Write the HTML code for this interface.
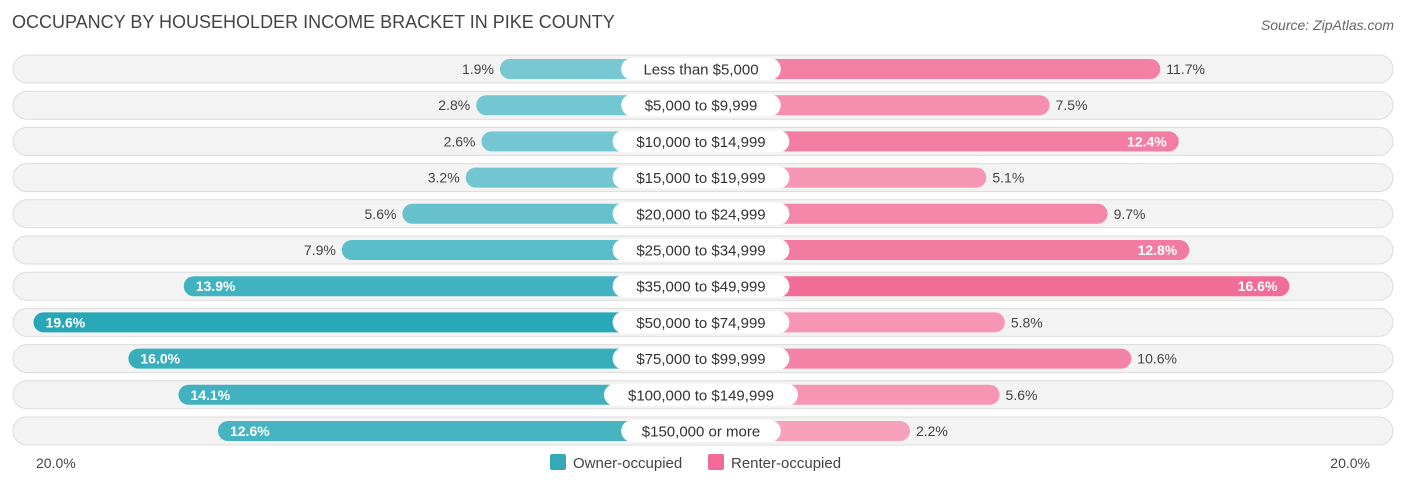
<!DOCTYPE html>
<html><head><meta charset="utf-8"><style>
body{margin:0;background:#fff;font-family:"Liberation Sans",sans-serif;}
svg text{font-family:"Liberation Sans",sans-serif;}
</style></head><body>
<svg id="chart" width="1406" height="487">
<text x="12" y="28" font-size="18" fill="#444">OCCUPANCY BY HOUSEHOLDER INCOME BRACKET IN PIKE COUNTY</text>
<text x="1394" y="30" font-size="14" fill="#666" text-anchor="end" font-style="italic">Source: ZipAtlas.com</text>
<g id="rows"></g>
<text x="36" y="468" font-size="14" fill="#444">20.0%</text>
<text x="1370" y="468" font-size="14" fill="#444" text-anchor="end">20.0%</text>
<rect x="550" y="454" width="16" height="16" rx="2" fill="#35a9b8"/>
<text x="573" y="468" font-size="15" fill="#444">Owner-occupied</text>
<rect x="708" y="454" width="16" height="16" rx="2" fill="#f06c97"/>
<text x="731" y="468" font-size="15" fill="#444">Renter-occupied</text>
</svg>
<script>
const categories=["Less than $5,000","$5,000 to $9,999","$10,000 to $14,999","$15,000 to $19,999","$20,000 to $24,999","$25,000 to $34,999","$35,000 to $49,999","$50,000 to $74,999","$75,000 to $99,999","$100,000 to $149,999","$150,000 or more"];
const owner=[1.9,2.8,2.6,3.2,5.6,7.9,13.9,19.6,16.0,14.1,12.6];
const renter=[11.7,7.5,12.4,5.1,9.7,12.8,16.6,5.8,10.6,5.6,2.2];
const maxV=20;
const NS="http://www.w3.org/2000/svg";
const g=document.getElementById('rows');
const center=701,leftZero=550,rightZero=852,pxPer=26.35;
const xl=v=>leftZero-v*pxPer, xr=v=>rightZero+v*pxPer;
const yc=i=>69+i*36.2;
function mix(a,b,t){return 'rgb('+a.map((c,k)=>Math.round(c+(b[k]-c)*t)).join(',')+')';}
function mk(tag,attrs){const e=document.createElementNS(NS,tag);for(const k in attrs)e.setAttribute(k,attrs[k]);g.appendChild(e);return e;}
categories.forEach((c,i)=>{
  const y=yc(i);
  const tr=mk('rect',{x:13,y:y-14,width:1380,height:28,rx:14,fill:'#f3f3f3',stroke:'#dcdcdc'});
  
  
  const o=owner[i],r=renter[i];
  const ob=mk('rect',{x:xl(o),y:y-10,width:center-xl(o),height:20,rx:10,fill:mix([128,204,214],[38,166,183],Math.min(1,o/maxV))});
  
  
  const rb=mk('rect',{x:center,y:y-10,width:xr(r)-center,height:20,rx:10,fill:mix([248,170,195],[240,96,142],Math.min(1,r/maxV))});
  
  
  const w=c.length*8.6+22;
  const lp=mk('rect',{x:center-w/2,y:y-11,width:w,height:22,rx:11,fill:'#fff'});
  
  
  const lt=mk('text',{x:center,y:y+5.5,'font-size':15,fill:'#333','text-anchor':'middle'});lt.textContent=c;
  
  
  const oin=o>=10;
  const ot=mk('text',{x:oin?xl(o)+12:xl(o)-6,y:y+5,'font-size':14,fill:oin?'#fff':'#444','text-anchor':oin?'start':'end','font-weight':oin?'bold':'normal'});ot.textContent=o.toFixed(1)+'%';
  
  
  const rin=r>=12;
  const rt=mk('text',{x:rin?xr(r)-12:xr(r)+6,y:y+5,'font-size':14,fill:rin?'#fff':'#444','text-anchor':rin?'end':'start','font-weight':rin?'bold':'normal'});rt.textContent=r.toFixed(1)+'%';
  
  
});
</script>
</body></html>
